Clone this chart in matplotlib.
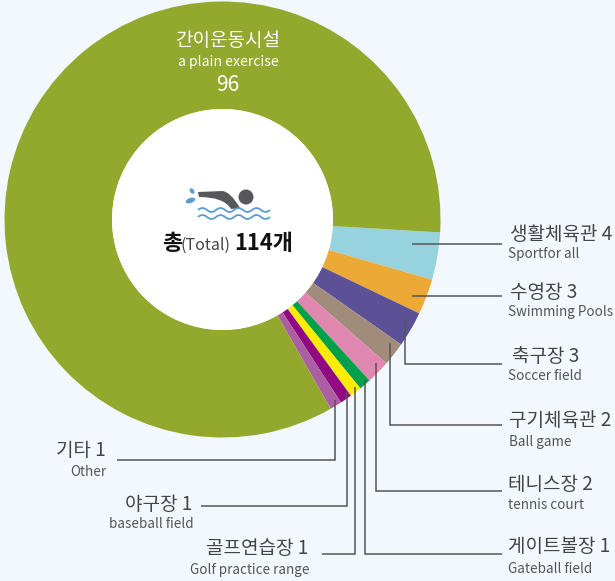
import matplotlib
matplotlib.use("Agg")
import matplotlib.pyplot as plt
from matplotlib.patches import Circle, Ellipse, PathPatch
from matplotlib.path import Path

plt.rcParams["font.family"] = ["Noto Sans CJK KR", "DejaVu Sans"]

W, H = 615, 581
BG = "#f2f8fe"
TXT = "#444444"

names_ko = ["생활체육관", "수영장", "축구장", "구기체육관", "테니스장", "게이트볼장",
            "골프연습장", "야구장", "기타", "간이운동시설"]
names_en = ["Sportfor all", "Swimming Pools", "Soccer field", "Ball game", "tennis court",
            "Gateball field", "Golf practice range", "baseball field", "Other", "a plain exercise"]
values = [4, 3, 3, 2, 2, 1, 1, 1, 1, 96]
colors = ["#97d3df", "#eca936", "#5c5097", "#a18b7a", "#e087b0", "#009f49",
          "#ffed00", "#910a82", "#ac5ea3", "#92a92e"]
total = 114

# label anchors: x, y korean, x, y english, align
label_pos = [
    (510, 234, 508, 254, "left"),
    (510, 292, 508, 312, "left"),
    (512, 357, 508, 376, "left"),
    (509, 421, 509, 442, "left"),
    (508, 484, 508, 505, "left"),
    (508, 547, 508, 569, "left"),
    (308, 548, 310, 570, "right"),
    (192, 504, 194, 524, "right"),
    (106, 451, 106, 472, "right"),
]
# leader lines in pixels
leaders = [
    [(412, 244), (502, 244)],
    [(412, 296), (502, 296)],
    [(405, 320), (405, 364), (502, 364)],
    [(390, 343), (390, 425), (502, 425)],
    [(376, 363), (376, 491), (502, 491)],
    [(365, 380), (365, 554), (502, 554)],
    [(355, 387), (355, 554), (322, 554)],
    [(347, 392), (347, 506), (201, 506)],
    [(335, 400), (335, 460), (117, 460)],
]

CX, CY, R, HOLE = 222.5, 219.5, 218, 110.5


def px(size):
    return size * 72 / 100


fig = plt.figure(figsize=(W / 100, H / 100), dpi=100, facecolor=BG)

pie_ax = fig.add_axes([(CX - R) / W, 1 - (CY + R) / H, 2 * R / W, 2 * R / H])
pie_ax.pie(values, colors=colors, startangle=-3.4, counterclock=False, radius=1,
           wedgeprops=dict(width=1 - HOLE / R, linewidth=0))
pie_ax.add_patch(Circle((0, 0), HOLE / R, color="white", lw=0))
pie_ax.set_xlim(-1, 1)
pie_ax.set_ylim(-1, 1)
pie_ax.axis("off")

ax = fig.add_axes([0, 0, 1, 1])
ax.set_xlim(0, W)
ax.set_ylim(H, 0)
ax.axis("off")
ax.patch.set_alpha(0)

for pts in leaders:
    ax.plot([p[0] for p in pts], [p[1] for p in pts], color="#555555", lw=1.1,
            solid_joinstyle="miter", solid_capstyle="butt")

for i, (x1, y1, x2, y2, ha) in enumerate(label_pos):
    ax.text(x1, y1, f"{names_ko[i]} {values[i]}", fontsize=px(19), color=TXT, ha=ha, va="center", fontweight="light")
    ax.text(x2, y2, names_en[i], fontsize=px(13.5), color="#555555", ha=ha, va="center", fontweight="light")

# big green slice
ax.text(228, 41, names_ko[9], fontsize=px(19), color="white", ha="center", va="center", fontweight="light")
ax.text(228, 62, names_en[9], fontsize=px(14), color="white", ha="center", va="center", fontweight="light")
ax.text(228, 85, str(values[9]), fontsize=px(21), color="white", ha="center", va="center", fontweight="light")

# centre total
ax.text(172, 244, "총", fontsize=px(22), color="#111111", ha="center", va="center", fontweight="bold")
ax.text(206, 245, "(Total)", fontsize=px(16), color=TXT, ha="center", va="center", fontweight="light")
ax.text(264, 244, f"{total}개", fontsize=px(22), color="#111111", ha="center", va="center", fontweight="bold")

# swimmer icon
ax.add_patch(Circle((246, 197), 7.5, color="#58585a", lw=0))
body = Path([(198, 192), (222, 191), (230, 191), (240, 208), (231, 209), (224, 197), (199, 197), (198, 192)],
            [Path.MOVETO, Path.LINETO, Path.CURVE3, Path.CURVE3, Path.LINETO, Path.CURVE3, Path.CURVE3, Path.CLOSEPOLY])
ax.add_patch(PathPatch(body, color="#58585a", lw=0))
ax.add_patch(Ellipse((192, 191), 4, 6, angle=-35, color="#5b9bd5", lw=0))
ax.add_patch(Ellipse((190.5, 200.5), 10, 5, angle=-20, color="#5b9bd5", lw=0))
for wy in (210, 217):
    verts = [(198, wy)]
    codes = [Path.MOVETO]
    x = 198
    sign = -1
    while x < 270:
        verts += [(x + 4.5, wy + sign * 4), (x + 9, wy)]
        codes += [Path.CURVE3, Path.CURVE3]
        x += 9
        sign = -sign
    ax.add_patch(PathPatch(Path(verts, codes), fill=False, edgecolor="#5b9bd5", lw=1.3))

fig.savefig("out.png", dpi=100, facecolor=BG)
